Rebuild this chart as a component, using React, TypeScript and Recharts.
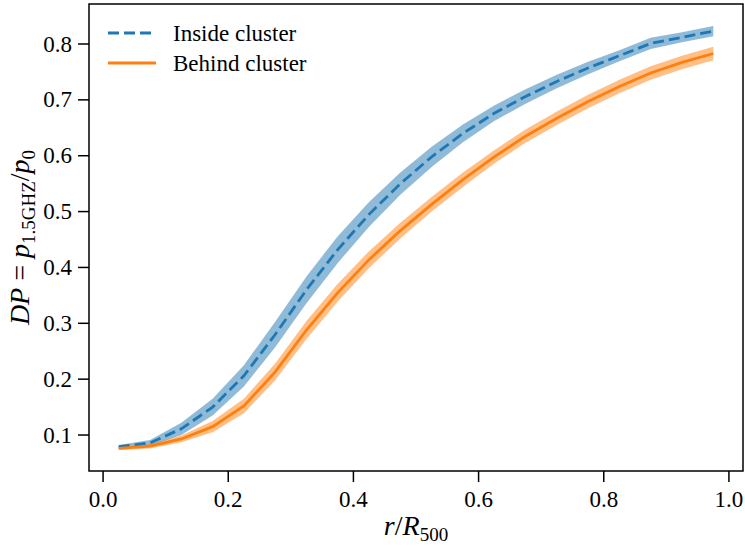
import React from 'react';
import { ComposedChart, Area, Line, XAxis, YAxis, ReferenceArea, Legend } from 'recharts';

const rValues = [0.025, 0.075, 0.125, 0.175, 0.225, 0.275, 0.325, 0.375, 0.425, 0.475, 0.525, 0.575, 0.625, 0.675, 0.725, 0.775, 0.825, 0.875, 0.925, 0.975];
const insideMean = [0.079, 0.086, 0.111, 0.150, 0.206, 0.280, 0.360, 0.432, 0.495, 0.550, 0.598, 0.640, 0.676, 0.706, 0.733, 0.757, 0.779, 0.801, 0.812, 0.823];
const insideErr = [0.003, 0.005, 0.011, 0.015, 0.019, 0.023, 0.024, 0.024, 0.022, 0.020, 0.018, 0.016, 0.014, 0.013, 0.012, 0.011, 0.010, 0.010, 0.009, 0.009];
const behindMean = [0.076, 0.080, 0.093, 0.115, 0.152, 0.213, 0.288, 0.355, 0.414, 0.466, 0.513, 0.557, 0.598, 0.635, 0.667, 0.697, 0.724, 0.748, 0.767, 0.783];
const behindErr = [0.003, 0.004, 0.006, 0.010, 0.013, 0.015, 0.016, 0.016, 0.015, 0.014, 0.013, 0.013, 0.012, 0.012, 0.012, 0.012, 0.012, 0.012, 0.012, 0.012];

const xTicks = [0, 0.2, 0.4, 0.6, 0.8, 1.0];
const yTicks = [0.1, 0.2, 0.3, 0.4, 0.5, 0.6, 0.7, 0.8];
const xDomain = [-0.0225, 1.0225];
const yDomain = [0.0356, 0.8716];

const seriesNames = ['Inside cluster', 'Behind cluster'];
const BLUE = '#1f77b4';
const ORANGE = '#ff7f0e';
const FONT = 'Liberation Serif';
const TICK_SIZE = 23;
const DASH = '11 5';

const data = rValues.map((r, i) => ({
  r,
  inside: insideMean[i],
  insideBand: [insideMean[i] - insideErr[i], insideMean[i] + insideErr[i]],
  behind: behindMean[i],
  behindBand: [behindMean[i] - behindErr[i], behindMean[i] + behindErr[i]],
}));

const XTick = (props: any) => {
  const { x, y, payload } = props;
  return (
    <text x={x} y={y} dy="0.72em" textAnchor="middle" fontFamily={FONT} fontSize={TICK_SIZE} fill="#000">
      {Number(payload.value).toFixed(1)}
    </text>
  );
};

const YTick = (props: any) => {
  const { x, y, payload } = props;
  return (
    <text x={x} y={y} dy="0.33em" textAnchor="end" fontFamily={FONT} fontSize={TICK_SIZE} fill="#000">
      {Number(payload.value).toFixed(1)}
    </text>
  );
};

const XLabel = (props: any) => {
  const vb = props.viewBox || { x: 89, y: 471, width: 654, height: 80 };
  const cx = vb.x + vb.width / 2;
  return (
    <text x={cx} y={535} textAnchor="middle" fontFamily={FONT} fontSize={28} fill="#000">
      <tspan fontStyle="italic">r</tspan>
      <tspan>/</tspan>
      <tspan fontStyle="italic">R</tspan>
      <tspan fontSize={19} dy={6}>500</tspan>
    </text>
  );
};

const YLabel = (props: any) => {
  const vb = props.viewBox || { x: 0, y: 4, width: 89, height: 467 };
  const cy = vb.y + vb.height / 2;
  const cx = 29;
  return (
    <text x={cx} y={cy} textAnchor="middle" fontFamily={FONT} fontSize={28} fill="#000" transform={`rotate(-90 ${cx} ${cy})`}>
      <tspan fontStyle="italic">DP</tspan>
      <tspan> = </tspan>
      <tspan fontStyle="italic">p</tspan>
      <tspan fontSize={19} dy={6}>1.5GHZ</tspan>
      <tspan dy={-6}>/</tspan>
      <tspan fontStyle="italic">p</tspan>
      <tspan fontSize={19} dy={6}>0</tspan>
    </text>
  );
};

const LegendContent = () => (
  <svg width={240} height={70} style={{ display: 'block' }}>
    <line x1={8} x2={52} y1={23} y2={23} stroke={BLUE} strokeWidth={2.8} strokeDasharray={DASH} />
    <text x={73} y={31} fontFamily={FONT} fontSize={TICK_SIZE} fill="#000">{seriesNames[0]}</text>
    <line x1={8} x2={56} y1={53} y2={53} stroke={ORANGE} strokeWidth={2.8} />
    <text x={73} y={61} fontFamily={FONT} fontSize={TICK_SIZE} fill="#000">{seriesNames[1]}</text>
  </svg>
);

export default function App() {
  return (
    <div style={{ position: 'absolute', left: 0, top: 0, width: 745, height: 551, background: '#fff', fontFamily: FONT }}>
      <ComposedChart width={745} height={551} data={data} margin={{ top: 4, right: 2, bottom: 0, left: 0 }}>
        <XAxis
          type="number"
          dataKey="r"
          domain={xDomain}
          ticks={xTicks}
          height={80}
          axisLine={false}
          tickLine={{ stroke: '#000', strokeWidth: 1.5 }}
          tickSize={11}
          tickMargin={8}
          tick={<XTick />}
          label={<XLabel />}
          allowDataOverflow
        />
        <YAxis
          type="number"
          domain={yDomain}
          ticks={yTicks}
          width={89}
          axisLine={false}
          tickLine={{ stroke: '#000', strokeWidth: 1.5 }}
          tickSize={11}
          tickMargin={6}
          tick={<YTick />}
          label={<YLabel />}
          allowDataOverflow
        />
        <Legend
          content={<LegendContent />}
          layout="horizontal"
          verticalAlign="middle"
          align="center"
          wrapperStyle={{ position: 'absolute', top: 10, left: 100, width: 240, height: 70 }}
        />
        <Area dataKey="insideBand" type="linear" stroke="none" fill={BLUE} fillOpacity={0.5} isAnimationActive={false} activeDot={false} legendType="none" />
        <Line dataKey="inside" name={seriesNames[0]} type="linear" stroke={BLUE} strokeWidth={2.8} strokeDasharray={DASH} dot={false} activeDot={false} isAnimationActive={false} />
        <Area dataKey="behindBand" type="linear" stroke="none" fill={ORANGE} fillOpacity={0.5} isAnimationActive={false} activeDot={false} legendType="none" />
        <Line dataKey="behind" name={seriesNames[1]} type="linear" stroke={ORANGE} strokeWidth={2.8} dot={false} activeDot={false} isAnimationActive={false} />
        <ReferenceArea x1={xDomain[0]} x2={xDomain[1]} y1={yDomain[0]} y2={yDomain[1]} fill="none" stroke="#000" strokeWidth={1.5} ifOverflow="visible" />
      </ComposedChart>
    </div>
  );
}
